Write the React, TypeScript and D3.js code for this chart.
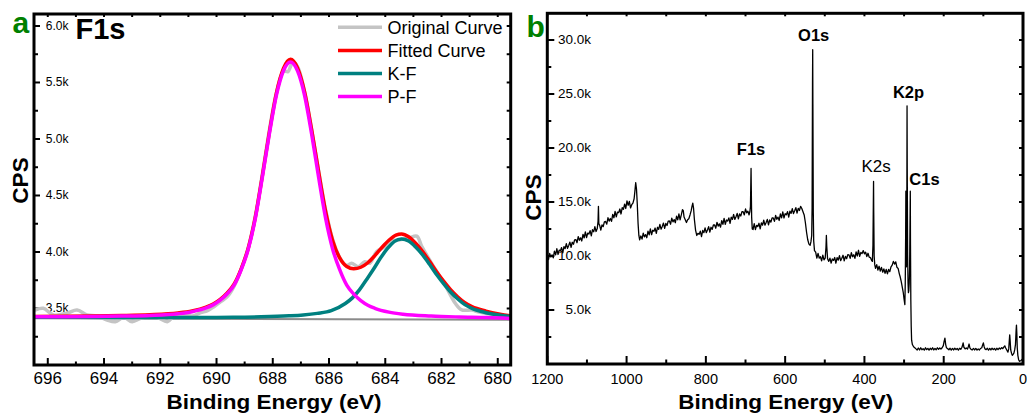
import React from 'react';
import * as d3 from 'd3';

const FONT = '"Liberation Sans", Arial, Helvetica, sans-serif';

// ---------------- Panel a : F1s high resolution ----------------
const f1sTicksX = [696, 694, 692, 690, 688, 686, 684, 682, 680];
const f1sTicksY = [3500, 4000, 4500, 5000, 5500, 6000];

const originalCurve: [number, number][] = [
  [696.5, 3480], [696.45, 3487], [696.16, 3502], [695.8, 3443], [695.32, 3458], [694.96, 3487], [694.61, 3443],
  [694.25, 3434], [693.89, 3398], [693.6, 3383], [693.3, 3422], [693.0, 3383], [692.7, 3413], [692.46, 3427],
  [692.11, 3422], [691.75, 3383], [691.51, 3434], [691.16, 3443], [690.86, 3434], [690.56, 3463], [690.32, 3481],
  [690.09, 3516], [689.85, 3560], [689.6, 3610], [689.37, 3700], [689.12, 3850], [688.87, 4040], [688.62, 4320],
  [688.37, 4690], [688.12, 5080], [687.87, 5410], [687.62, 5600], [687.46, 5596], [687.37, 5640], [687.29, 5680],
  [687.12, 5640], [686.87, 5420], [686.62, 5090], [686.37, 4720], [686.12, 4370], [685.87, 4110], [685.62, 3950],
  [685.37, 3880], [685.2, 3900], [684.96, 3870], [684.73, 3914], [684.55, 3900], [684.31, 4003], [684.01, 4047],
  [683.75, 4100], [683.54, 4106], [683.18, 4121], [682.88, 4140], [682.7, 4047], [682.35, 3900], [682.1, 3800],
  [681.87, 3708], [681.51, 3546], [681.28, 3487], [680.92, 3487], [680.7, 3470], [680.44, 3458], [680.09, 3449],
  [679.73, 3427], [679.37, 3413],
];

const fittedCurve: [number, number][] = [
  [696.5, 3429], [695.37, 3431], [694.37, 3433], [693.37, 3437], [692.37, 3444], [691.37, 3460], [690.87, 3478],
  [690.37, 3512], [690.12, 3539], [689.87, 3581], [689.62, 3638], [689.37, 3717], [689.12, 3853], [688.87, 4036],
  [688.62, 4309], [688.37, 4675], [688.12, 5062], [687.87, 5406], [687.62, 5624], [687.37, 5705], [687.12, 5629],
  [686.87, 5417], [686.62, 5084], [686.37, 4709], [686.12, 4357], [685.87, 4100], [685.62, 3948], [685.37, 3872],
  [685.12, 3852], [684.87, 3865], [684.62, 3905], [684.37, 3968], [684.12, 4040], [683.87, 4104], [683.62, 4150],
  [683.42, 4160], [683.17, 4135], [682.92, 4078], [682.67, 4004], [682.42, 3915], [682.17, 3823], [681.92, 3740],
  [681.67, 3664], [681.42, 3602], [681.17, 3551], [680.92, 3517], [680.42, 3477], [679.92, 3450], [679.5, 3434],
];

const kfCurve: [number, number][] = [
  [696.5, 3422], [693.42, 3421], [691.42, 3420], [689.42, 3422], [688.42, 3426], [687.42, 3435], [686.92, 3443],
  [686.42, 3457], [685.92, 3481], [685.42, 3544], [685.17, 3594], [684.92, 3665], [684.67, 3755], [684.42, 3847],
  [684.17, 3946], [683.92, 4031], [683.67, 4094], [683.42, 4115], [683.17, 4097], [682.92, 4044], [682.67, 3974],
  [682.42, 3889], [682.17, 3799], [681.92, 3718], [681.67, 3644], [681.42, 3584], [681.17, 3534], [680.92, 3501],
  [680.42, 3463], [679.92, 3440], [679.5, 3428],
];

const pfCurve: [number, number][] = [
  [696.5, 3427], [695.37, 3427], [694.37, 3429], [693.37, 3433], [692.37, 3439], [691.37, 3454], [690.87, 3472],
  [690.37, 3505], [690.12, 3532], [689.87, 3573], [689.62, 3630], [689.37, 3709], [689.12, 3844], [688.87, 4026],
  [688.62, 4298], [688.37, 4662], [688.12, 5047], [687.87, 5388], [687.62, 5604], [687.37, 5682], [687.12, 5603],
  [686.87, 5387], [686.62, 5046], [686.37, 4661], [686.12, 4297], [685.87, 4025], [685.62, 3843], [685.37, 3706],
  [685.12, 3627], [684.87, 3570], [684.62, 3529], [684.37, 3502], [683.87, 3468], [683.37, 3449], [682.37, 3433],
  [681.37, 3425], [680.37, 3420], [679.5, 3411],
];

const backgroundLine: [number, number][] = [[696.5, 3414], [679.5, 3401]];

const legendItems = [
  { label: 'Original Curve', color: '#c4c4c4' },
  { label: 'Fitted Curve', color: '#ff0000' },
  { label: 'K-F', color: '#008080' },
  { label: 'P-F', color: '#ff00ff' },
];

// ---------------- Panel b : survey ----------------
const surveyTicksX = [1200, 1000, 800, 600, 400, 200, 0];
const surveyTicksY = [5, 10, 15, 20, 25, 30];

// binding energy (eV), counts (k CPS)
const surveyCurve: [number, number][] = [
  [1200, 9.95], [1197, 9.67], [1194, 10.23], [1191, 9.9], [1188, 10.11], [1185, 9.83], [1182, 10.44], [1179, 10.11],
  [1176, 10.67], [1173, 10.14], [1170, 10.55], [1167, 10.47], [1164, 10.78], [1161, 10.3], [1158, 10.87], [1155, 10.68],
  [1152, 11.15], [1149, 10.71], [1146, 10.98], [1143, 11.29], [1140, 10.81], [1137, 11.27], [1134, 11.09], [1131, 11.5],
  [1128, 11.52], [1125, 11.23], [1122, 11.8], [1119, 11.46], [1116, 11.68], [1113, 11.39], [1110, 12.01], [1107, 11.67],
  [1104, 12.24], [1101, 11.7], [1098, 12.12], [1095, 12.03], [1092, 12.35], [1089, 11.86], [1086, 12.43], [1083, 12.24],
  [1080, 12.71], [1077, 12.27], [1074, 12.54], [1072, 13.2], [1071, 14.6], [1070, 13.0], [1068, 12.85], [1065, 12.39],
  [1062, 12.88], [1059, 12.72], [1056, 13.16], [1053, 13.2], [1050, 12.95], [1047, 13.54], [1044, 13.23], [1041, 13.47],
  [1038, 13.21], [1035, 13.85], [1032, 13.54], [1029, 14.13], [1026, 13.62], [1023, 14.06], [1020, 14.01], [1017, 14.35],
  [1014, 13.89], [1011, 14.48], [1008, 14.32], [1005, 14.81], [1002, 14.4], [999, 15.1], [996, 14.7], [993, 15.05],
  [990, 14.45], [987, 14.75], [984, 14.9], [981, 15.3], [979, 16.0], [977, 16.8], [975, 16.2], [973, 14.8],
  [971, 13.0], [969, 11.9], [967, 11.5], [964, 11.85], [961, 11.56], [958, 12.12], [955, 11.77], [952, 11.98],
  [949, 11.69], [946, 12.3], [943, 11.96], [940, 12.51], [937, 11.97], [934, 12.38], [931, 12.29], [928, 12.59],
  [925, 12.1], [922, 12.66], [919, 12.47], [916, 12.93], [913, 12.48], [910, 12.74], [907, 13.05], [904, 12.56],
  [901, 13.01], [898, 12.82], [895, 13.23], [892, 13.24], [889, 12.94], [886, 13.5], [883, 13.16], [880, 13.37],
  [877, 13.08], [874, 13.68], [871, 13.34], [868, 13.9], [865, 13.35], [862, 13.8], [859, 14.3], [857, 14.2],
  [855, 13.6], [852, 13.35], [849, 13.1], [846, 13.35], [843, 13.45], [840, 13.8], [837, 14.2], [835, 14.6],
  [833, 14.9], [831, 14.4], [829, 13.4], [826, 12.4], [823, 11.9], [820, 12.1], [817, 12.0], [814, 12.3],
  [811, 11.8], [808, 12.36], [805, 12.16], [802, 12.61], [799, 12.16], [796, 12.41], [793, 12.71], [790, 12.21],
  [787, 12.66], [784, 12.47], [781, 12.87], [778, 12.87], [775, 12.57], [772, 13.12], [769, 12.77], [766, 12.97],
  [763, 12.67], [760, 13.28], [757, 12.93], [754, 13.48], [751, 12.93], [748, 13.33], [745, 13.23], [742, 13.53],
  [739, 13.03], [736, 13.59], [733, 13.39], [730, 13.84], [727, 13.39], [724, 13.64], [721, 13.94], [718, 13.44],
  [715, 13.89], [712, 13.7], [709, 14.1], [706, 14.1], [703, 13.8], [700, 14.35], [697, 14.0], [694, 14.15],
  [691, 13.8], [689, 14.1], [687.5, 14.6], [686.5, 17.0], [686, 18.1], [685.5, 16.5], [684.5, 13.6], [683, 12.5],
  [681, 12.45], [678, 13.0], [675, 12.44], [672, 12.84], [669, 12.73], [666, 13.03], [663, 12.52], [660, 13.07],
  [657, 12.86], [654, 13.31], [651, 12.85], [648, 13.1], [645, 13.39], [642, 12.89], [639, 13.33], [636, 13.13],
  [633, 13.52], [630, 13.52], [627, 13.21], [624, 13.76], [621, 13.4], [618, 13.6], [615, 13.29], [612, 13.89],
  [609, 13.53], [606, 14.08], [603, 13.52], [600, 13.92], [597, 13.81], [594, 14.11], [591, 13.6], [588, 14.15],
  [585, 13.94], [582, 14.39], [579, 13.93], [576, 14.18], [573, 14.47], [570, 13.97], [567, 14.41], [564, 14.21],
  [561, 14.6], [558, 14.4], [555, 14.1], [552, 13.8], [549, 13.1], [546, 12.2], [543, 11.5], [540, 11.1],
  [537, 11.0], [535, 11.3], [533, 11.9], [532, 14.5], [531, 26.0], [530.5, 29.1], [530, 24.0], [529, 14.0],
  [528, 11.4], [526, 10.5], [523, 10.35], [520, 9.8], [517, 10.25], [514, 9.8], [511, 9.93], [508, 9.55],
  [505, 10.07], [502, 9.65], [499, 9.8], [497, 10.8], [496, 11.9], [495, 10.9], [493, 9.75], [490, 9.5],
  [487, 9.8], [484, 9.35], [481, 9.72], [478, 9.59], [475, 9.86], [472, 9.33], [469, 9.85], [466, 9.62],
  [463, 10.04], [460, 9.57], [457, 9.79], [454, 10.07], [451, 9.54], [448, 9.97], [445, 9.75], [442, 10.12],
  [439, 10.1], [436, 9.78], [433, 10.3], [430, 9.93], [427, 10.11], [424, 9.79], [421, 10.37], [418, 10.0],
  [415, 10.53], [412, 9.96], [409, 10.34], [406, 10.22], [403, 10.5], [400, 10.2], [397, 10.35], [394, 9.95],
  [391, 10.25], [388, 9.9], [385, 9.85], [382, 9.6], [380, 9.5], [378.5, 11.0], [377.5, 15.0], [377, 16.9],
  [376.5, 14.0], [375.5, 10.0], [374, 9.2], [372, 8.85], [369, 9.2], [366, 8.7], [363, 9.05], [360, 8.6],
  [357, 8.95], [354, 8.5], [351, 8.8], [348, 8.4], [345, 8.75], [342, 8.35], [339, 8.75], [336, 8.55],
  [333, 9.0], [330, 9.15], [327, 9.5], [324, 9.25], [321, 9.45], [318, 8.95], [315, 8.85], [312, 8.35],
  [310, 8.1], [307, 7.6], [304, 7.0], [302, 6.6], [300, 6.0], [298, 5.5], [297, 7.5], [296, 12.0],
  [295.5, 16.0], [295, 11.0], [294, 9.0], [293, 15.0], [292.5, 23.9], [292, 18.0], [291, 10.0], [290, 7.5],
  [289, 6.6], [288, 6.8], [287, 7.5], [286, 9.0], [285, 13.0], [284.3, 16.0], [283.8, 11.0], [283, 6.0],
  [282, 3.5], [281, 2.2], [279, 1.8], [276, 1.6], [273, 1.5], [270, 1.4], [267, 1.3], [264, 1.48],
  [261, 1.3], [258, 1.5], [255, 1.32], [252, 1.42], [249, 1.28], [246, 1.5], [243, 1.33], [240, 1.45],
  [237, 1.28], [234, 1.46], [231, 1.33], [228, 1.5], [225, 1.3], [222, 1.44], [219, 1.32], [216, 1.5],
  [213, 1.36], [210, 1.48], [207, 1.38], [204, 1.5], [201, 1.7], [199, 2.1], [197, 2.4], [195, 1.8],
  [193, 1.5], [190, 1.42], [187, 1.32], [184, 1.46], [181, 1.28], [178, 1.44], [175, 1.3], [172, 1.46],
  [169, 1.33], [166, 1.44], [163, 1.28], [160, 1.46], [157, 1.36], [154, 1.55], [152, 1.8], [151, 1.95],
  [149, 1.55], [146, 1.4], [143, 1.48], [140, 1.38], [138, 1.6], [136, 1.85], [134, 1.5], [131, 1.36],
  [128, 1.3], [125, 1.44], [122, 1.3], [119, 1.44], [116, 1.28], [113, 1.4], [110, 1.3], [107, 1.44],
  [104, 1.5], [102, 1.75], [100, 1.95], [98, 1.6], [96, 1.4], [93, 1.33], [90, 1.46], [87, 1.28],
  [84, 1.44], [81, 1.3], [78, 1.46], [75, 1.33], [72, 1.44], [69, 1.28], [66, 1.46], [63, 1.33],
  [60, 1.48], [57, 1.38], [54, 1.52], [51, 1.42], [48, 1.58], [46, 1.68], [44, 1.5], [41, 1.3],
  [38, 1.1], [36, 1.4], [34.5, 2.2], [33.5, 2.7], [32.5, 2.2], [31, 1.3], [29, 1.0], [27, 0.8],
  [25, 0.9], [23, 1.0], [21, 1.3], [19, 1.8], [17.5, 3.0], [16.5, 3.6], [15.5, 2.8], [14.5, 1.5],
  [13, 0.8], [11, 0.4], [9, 0.25], [6, 0.3], [3, 0.4], [0, 0.5],
];

// label text, energy of peak, label baseline (k CPS), anchor, bold
const peakLabels = [
  { text: 'F1s', e: 686, at: 19.35, anchor: 'middle', bold: true, dx: 0 },
  { text: 'O1s', e: 530.5, at: 29.95, anchor: 'middle', bold: true, dx: 1 },
  { text: 'K2s', e: 377, at: 17.8, anchor: 'middle', bold: false, dx: 2.5 },
  { text: 'K2p', e: 292.5, at: 24.6, anchor: 'middle', bold: true, dx: 1.5 },
  { text: 'C1s', e: 284.3, at: 16.6, anchor: 'start', bold: true, dx: -1 },
];

// ---------------- geometry ----------------
const A = { left: 34, right: 510.7, top: 14, bottom: 365 };
const B = { left: 547.3, right: 1023, top: 13.3, bottom: 364 };

function fmtK(v: number) {
  return (v >= 100 ? v / 1000 : v).toFixed(1) + 'k';
}

export default function App() {
  // Panel a scales
  const xa = d3.scaleLinear().domain([696.49, 679.54]).range([A.left, A.right]);
  const ya = d3.scaleLinear().domain([3000, 6106]).range([A.bottom, A.top]);
  const lineA = d3
    .line<[number, number]>()
    .x((d) => xa(d[0]))
    .y((d) => ya(d[1]))
    .curve(d3.curveMonotoneX);
  const lineA2 = d3
    .line<[number, number]>()
    .x((d) => xa(d[0]))
    .y((d) => ya(d[1]))
    .curve(d3.curveCatmullRom.alpha(0.5));

  // Panel b scales
  const xb = d3.scaleLinear().domain([1200, 0]).range([B.left, B.right]);
  const yb = d3.scaleLinear().domain([0, 32.47]).range([B.bottom, B.top]);
  const lineB = d3
    .line<[number, number]>()
    .x((d) => xb(d[0]))
    .y((d) => yb(d[1]));

  const aMinorY = d3.range(3250, 6001, 500);
  const aRightY = d3.range(3250, 6001, 250);
  const aTopX = d3.range(696, 679, -1);
  const aMinorX = d3.range(695, 680, -2);

  const bMinorY = d3.range(2.5, 32.5, 5);
  const bRightY = d3.range(2.5, 32.5, 2.5);
  const bTopX = d3.range(1200, -1, -100);
  const bMinorX = d3.range(1100, 0, -200);

  const tickStroke = { stroke: '#000', strokeWidth: 2 };

  return (
    <svg
      width={1027}
      height={417}
      style={{ position: 'absolute', left: 0, top: 0, background: '#fff' }}
      fontFamily={FONT}
    >
      <defs>
        <clipPath id="clipA">
          <rect x={A.left} y={A.top} width={A.right - A.left} height={A.bottom - A.top} />
        </clipPath>
        <clipPath id="clipB">
          <rect x={B.left} y={B.top} width={B.right - B.left} height={B.bottom - B.top} />
        </clipPath>
      </defs>
      <rect x={0} y={0} width={1027} height={417} fill="#fff" />

      {/* ================= Panel a ================= */}
      <g>
        {f1sTicksY.map((v) => (
          <g key={'ay' + v}>
            <line x1={A.left} x2={A.left + 6} y1={ya(v)} y2={ya(v)} {...tickStroke} />
            <text x={68.5} y={ya(v)} fontSize={12} textAnchor="end" dominantBaseline="central" fill="#000">
              {fmtK(v)}
            </text>
          </g>
        ))}
        {aMinorY.map((v) => (
          <line key={'aym' + v} x1={A.left} x2={A.left + 4} y1={ya(v)} y2={ya(v)} {...tickStroke} />
        ))}
        {aRightY.map((v) => (
          <line key={'ayr' + v} x1={A.right} x2={A.right - 4} y1={ya(v)} y2={ya(v)} {...tickStroke} />
        ))}
        {aTopX.map((v) => (
          <line key={'axt' + v} x1={xa(v)} x2={xa(v)} y1={A.top} y2={A.top + 3} {...tickStroke} />
        ))}
        {f1sTicksX.map((v) => (
          <g key={'ax' + v}>
            <line x1={xa(v)} x2={xa(v)} y1={A.bottom} y2={A.bottom - 7} {...tickStroke} />
            <text x={xa(v)} y={384} fontSize={17} textAnchor="middle" fill="#000">
              {v}
            </text>
          </g>
        ))}
        {aMinorX.map((v) => (
          <line key={'axm' + v} x1={xa(v)} x2={xa(v)} y1={A.bottom} y2={A.bottom - 3.5} {...tickStroke} />
        ))}

        <g clipPath="url(#clipA)" fill="none" strokeLinejoin="round" strokeLinecap="round">
          <path d={lineA(backgroundLine) || ''} stroke="#8a8a8a" strokeWidth={2} />
          <path d={lineA2(originalCurve) || ''} stroke={legendItems[0].color} strokeWidth={3.5} />
          <path d={lineA(fittedCurve) || ''} stroke={legendItems[1].color} strokeWidth={3.5} />
          <path d={lineA(kfCurve) || ''} stroke={legendItems[2].color} strokeWidth={3.5} />
          <path d={lineA(pfCurve) || ''} stroke={legendItems[3].color} strokeWidth={3.5} />
        </g>

        <rect
          x={A.left}
          y={A.top}
          width={A.right - A.left}
          height={A.bottom - A.top}
          fill="none"
          stroke="#000"
          strokeWidth={3}
        />

        {legendItems.map((it, i) => (
          <g key={it.label}>
            <line x1={338} x2={382} y1={27.3 + i * 23.1} y2={27.3 + i * 23.1} stroke={it.color} strokeWidth={3.5} />
            <text x={387.5} y={27.3 + i * 23.1 + 6.5} fontSize={18} fill="#000">
              {it.label}
            </text>
          </g>
        ))}

        <text x={75.5} y={39} fontSize={29} fontWeight="bold" fill="#000">
          F1s
        </text>
        <text x={12.5} y={33} fontSize={30} fontWeight="bold" fill="#008000">
          a
        </text>
        <text
          transform="translate(28.3,180.5) rotate(-90)"
          textAnchor="middle"
          fontSize={22.5}
          fontWeight="bold"
          fill="#000"
        >
          CPS
        </text>
        <text
          x={274}
          y={408.5}
          textAnchor="middle"
          fontSize={20}
          fontWeight="bold"
          fill="#000"
          textLength={215}
          lengthAdjust="spacingAndGlyphs"
        >
          Binding Energy (eV)
        </text>
      </g>

      {/* ================= Panel b ================= */}
      <g>
        {surveyTicksY.map((v) => (
          <g key={'by' + v}>
            <line x1={B.left} x2={B.left + 7} y1={yb(v)} y2={yb(v)} {...tickStroke} />
            <text x={591} y={yb(v)} fontSize={13.5} textAnchor="end" dominantBaseline="central" fill="#000">
              {fmtK(v)}
            </text>
          </g>
        ))}
        {bMinorY.map((v) => (
          <line key={'bym' + v} x1={B.left} x2={B.left + 4} y1={yb(v)} y2={yb(v)} {...tickStroke} />
        ))}
        {bRightY.map((v) => (
          <line key={'byr' + v} x1={B.right} x2={B.right - 4} y1={yb(v)} y2={yb(v)} {...tickStroke} />
        ))}
        {bTopX.map((v) => (
          <line key={'bxt' + v} x1={xb(v)} x2={xb(v)} y1={B.top} y2={B.top + 3} {...tickStroke} />
        ))}
        {surveyTicksX.map((v) => (
          <g key={'bx' + v}>
            <line x1={xb(v)} x2={xb(v)} y1={B.bottom} y2={B.bottom - 8} {...tickStroke} />
            <text x={xb(v)} y={383.5} fontSize={14.5} textAnchor="middle" fill="#000">
              {v}
            </text>
          </g>
        ))}
        {bMinorX.map((v) => (
          <line key={'bxm' + v} x1={xb(v)} x2={xb(v)} y1={B.bottom} y2={B.bottom - 4.5} {...tickStroke} />
        ))}

        <g clipPath="url(#clipB)">
          <path d={lineB(surveyCurve) || ''} fill="none" stroke="#000" strokeWidth={1.3} strokeLinejoin="round" />
        </g>

        <rect
          x={B.left}
          y={B.top}
          width={B.right - B.left}
          height={B.bottom - B.top}
          fill="none"
          stroke="#000"
          strokeWidth={3}
        />

        {peakLabels.map((p) => (
          <text
            key={p.text}
            x={xb(p.e) + p.dx}
            y={yb(p.at)}
            textAnchor={p.anchor as any}
            fontSize={p.bold ? 16.5 : 17}
            fontWeight={p.bold ? 'bold' : 'normal'}
            fill="#000"
          >
            {p.text}
          </text>
        ))}

        <text x={526.5} y={36.5} fontSize={30} fontWeight="bold" fill="#008000">
          b
        </text>
        <text
          transform="translate(541,197.5) rotate(-90)"
          textAnchor="middle"
          fontSize={22.5}
          fontWeight="bold"
          fill="#000"
        >
          CPS
        </text>
        <text
          x={785.8}
          y={408.5}
          textAnchor="middle"
          fontSize={20}
          fontWeight="bold"
          fill="#000"
          textLength={215}
          lengthAdjust="spacingAndGlyphs"
        >
          Binding Energy (eV)
        </text>
      </g>
    </svg>
  );
}
